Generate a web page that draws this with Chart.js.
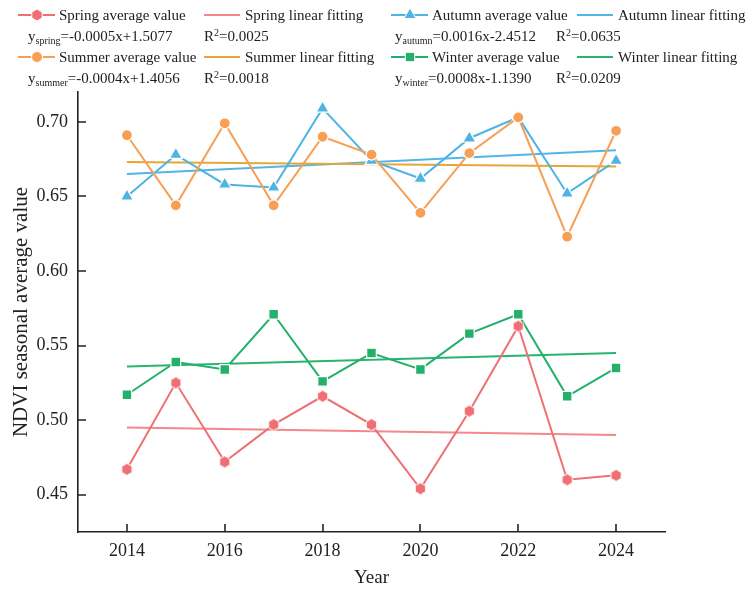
<!DOCTYPE html>
<html>
<head>
<meta charset="utf-8">
<script src="https://cdn.jsdelivr.net/npm/chart.js@4.4.1/dist/chart.umd.min.js"></script>
<style>
  html, body { margin: 0; padding: 0; background: #fff; }
  #wrap { position: relative; width: 754px; height: 590px; font-family: "Liberation Serif", "Times New Roman", serif; color: #222; }
  #chart { position: absolute; left: 0; top: 0; }
  #legend { position: absolute; left: 0; top: 0; width: 754px; height: 92px; pointer-events: none; }
  .lg { position: absolute; font-size: 15px; line-height: 18px; white-space: nowrap; }
  .lg sub { font-size: 10px; vertical-align: -3px; line-height: 0; }
  .lg sup { font-size: 10px; vertical-align: 5px; line-height: 0; }
</style>
</head>
<body>
<div id="wrap">
  <canvas id="chart" width="754" height="590"></canvas>
  <svg id="legend" width="754" height="92"></svg>
</div>
<script>
// Seasonal NDVI means by year
const years = [2014, 2015, 2016, 2017, 2018, 2019, 2020, 2021, 2022, 2023, 2024];
const springValues = [0.467, 0.525, 0.472, 0.497, 0.516, 0.497, 0.454, 0.506, 0.563, 0.460, 0.463];
const summerValues = [0.691, 0.644, 0.699, 0.644, 0.690, 0.678, 0.639, 0.679, 0.703, 0.623, 0.694];
const autumnValues = [0.650, 0.678, 0.658, 0.656, 0.709, 0.674, 0.662, 0.689, 0.703, 0.652, 0.674];
const winterValues = [0.517, 0.539, 0.534, 0.571, 0.526, 0.545, 0.534, 0.558, 0.571, 0.516, 0.535];

// Linear fits, drawn between the first and last year
const fitYears = [2014, 2024];
const springFit = [0.495, 0.490];
const summerFit = [0.673, 0.670];
const autumnFit = [0.665, 0.681];
const winterFit = [0.536, 0.545];

// Axis ticks
const xTicks = [2014, 2016, 2018, 2020, 2022, 2024];
const yTicks = [0.45, 0.50, 0.55, 0.60, 0.65, 0.70];

// Legend text
const seriesNames = ['Spring', 'Summer', 'Autumn', 'Winter'];
const equations = ['=-0.0005x+1.5077', '=-0.0004x+1.4056', '=0.0016x-2.4512', '=0.0008x-1.1390'];
const rSquared = ['0.0025', '0.0018', '0.0635', '0.0209'];

const COLORS = {
  spring: '#ef6f74', springFit: '#f4878b',
  summer: '#f7a055', summerFit: '#e8a538',
  autumn: '#4fb3e4', autumnFit: '#53b5e6',
  winter: '#22b06b', winterFit: '#28b46f'
};
const FONT = '"Liberation Serif", "Times New Roman", serif';

function hexagonImage(color, r) {
  const size = Math.ceil(r * 2 + 3);
  const c = document.createElement('canvas');
  c.width = size; c.height = size;
  const g = c.getContext('2d');
  const cx = size / 2, cy = size / 2;
  g.beginPath();
  for (let i = 0; i < 6; i++) {
    const a = Math.PI / 6 + i * Math.PI / 3;
    const px = cx + r * Math.cos(a), py = cy + r * Math.sin(a);
    i === 0 ? g.moveTo(px, py) : g.lineTo(px, py);
  }
  g.closePath();
  g.fillStyle = color; g.fill();
  g.strokeStyle = '#ffffff'; g.lineWidth = 1; g.stroke();
  return c;
}

const pts = (xs, ys) => xs.map((x, i) => ({ x: x, y: ys[i] }));

function fitDataset(label, ys, color) {
  return {
    label: label, data: pts(fitYears, ys), borderColor: color, borderWidth: 2,
    pointRadius: 0, pointHoverRadius: 0, fill: false, tension: 0, order: 2
  };
}
function avgDataset(label, ys, color, style, radius) {
  return {
    label: label, data: pts(years, ys), borderColor: color, backgroundColor: color,
    borderWidth: 2, pointStyle: style, pointRadius: radius, pointHoverRadius: radius,
    pointBackgroundColor: color, pointBorderColor: '#ffffff', pointBorderWidth: 1.2,
    fill: false, tension: 0, order: 1
  };
}

// Inward tick marks on both axes
const inwardTicks = {
  id: 'inwardTicks',
  afterDatasetsDraw(chart) {
    const ctx = chart.ctx;
    const area = chart.chartArea;
    const xs = chart.scales.x, ys = chart.scales.y;
    ctx.save();
    ctx.strokeStyle = '#222222';
    ctx.lineWidth = 1.6;
    ctx.beginPath();
    xTicks.forEach(v => {
      const px = Math.round(xs.getPixelForValue(v));
      ctx.moveTo(px, area.bottom);
      ctx.lineTo(px, area.bottom - 8);
    });
    yTicks.forEach(v => {
      const py = Math.round(ys.getPixelForValue(v));
      ctx.moveTo(area.left, py);
      ctx.lineTo(area.left + 8, py);
    });
    ctx.stroke();
    ctx.restore();
  }
};

new Chart(document.getElementById('chart'), {
  type: 'line',
  data: {
    datasets: [
      fitDataset('Spring linear fitting', springFit, COLORS.springFit),
      fitDataset('Summer linear fitting', summerFit, COLORS.summerFit),
      fitDataset('Autumn linear fitting', autumnFit, COLORS.autumnFit),
      fitDataset('Winter linear fitting', winterFit, COLORS.winterFit),
      avgDataset('Spring average value', springValues, COLORS.spring, hexagonImage(COLORS.spring, 6), 6),
      avgDataset('Summer average value', summerValues, COLORS.summer, 'circle', 5.5),
      avgDataset('Autumn average value', autumnValues, COLORS.autumn, 'triangle', 7.5),
      avgDataset('Winter average value', winterValues, COLORS.winter, 'rect', 6.8)
    ]
  },
  options: {
    responsive: false,
    animation: false,
    devicePixelRatio: 1,
    layout: { padding: { top: 92, right: 89, left: 0, bottom: 0 } },
    plugins: { legend: { display: false }, tooltip: { enabled: false } },
    scales: {
      x: {
        type: 'linear', min: 2013, max: 2025,
        afterBuildTicks(s) { s.ticks = xTicks.map(v => ({ value: v })); },
        afterFit(s) { s.height = 58; },
        grid: { display: false, drawTicks: false },
        border: { display: true, color: '#222', width: 1.6 },
        ticks: { padding: 8, color: '#222', font: { family: FONT, size: 18 }, callback: v => String(v) },
        title: { display: true, text: 'Year', color: '#222', font: { family: FONT, size: 19 }, padding: { top: 0, bottom: 1 } }
      },
      y: {
        type: 'linear', min: 0.425, max: 0.72,
        afterBuildTicks(s) { s.ticks = yTicks.map(v => ({ value: v })); },
        afterFit(s) { s.width = 78; },
        grid: { display: false, drawTicks: false },
        border: { display: true, color: '#222', width: 1.6 },
        ticks: { padding: 10, color: '#222', font: { family: FONT, size: 18 }, callback: v => Number(v).toFixed(2) },
        title: { display: true, text: 'NDVI seasonal average value', color: '#222', font: { family: FONT, size: 21 }, padding: { top: 9, bottom: 0 } }
      }
    }
  },
  plugins: [inwardTicks]
});

// Legend: sample lines and markers in SVG, labels as text
(function buildLegend() {
  const svg = document.getElementById('legend');
  const wrap = document.getElementById('wrap');
  const NS = 'http://www.w3.org/2000/svg';
  const el = (tag, attrs) => { const e = document.createElementNS(NS, tag); for (const k in attrs) e.setAttribute(k, attrs[k]); svg.appendChild(e); return e; };
  const text = (html, left, cy) => {
    const d = document.createElement('div');
    d.className = 'lg'; d.innerHTML = html;
    d.style.left = left + 'px'; d.style.top = (cy - 9) + 'px';
    wrap.appendChild(d);
  };
  const line = (x1, x2, y, c) => el('line', { x1: x1, x2: x2, y1: y, y2: y, stroke: c, 'stroke-width': 2 });
  const marker = (kind, x, y, c) => {
    if (kind === 'circle') el('circle', { cx: x, cy: y, r: 5.5, fill: c, stroke: '#fff', 'stroke-width': 1 });
    else if (kind === 'rect') el('rect', { x: x - 4.7, y: y - 4.7, width: 9.4, height: 9.4, fill: c, stroke: '#fff', 'stroke-width': 1 });
    else if (kind === 'triangle') el('polygon', { points: `${x},${y - 7} ${x + 6.1},${y + 3.5} ${x - 6.1},${y + 3.5}`, fill: c, stroke: '#fff', 'stroke-width': 1 });
    else {
      const p = [];
      for (let i = 0; i < 6; i++) { const a = Math.PI / 6 + i * Math.PI / 3; p.push((x + 6 * Math.cos(a)).toFixed(2) + ',' + (y + 6 * Math.sin(a)).toFixed(2)); }
      el('polygon', { points: p.join(' '), fill: c, stroke: '#fff', 'stroke-width': 1 });
    }
  };
  const keys = ['spring', 'summer', 'autumn', 'winter'];
  const kinds = ['hex', 'circle', 'triangle', 'rect'];
  // column origin and row centre for each season
  const colX = [0, 0, 373, 373];
  const rowY = [15, 57, 15, 57];
  keys.forEach((k, i) => {
    const ox = colX[i], cy = rowY[i];
    line(ox + 18, ox + 55, cy, COLORS[k]);
    marker(kinds[i], ox + 37, cy, COLORS[k]);
    text(seriesNames[i] + ' average value', ox + 59, cy);
    line(ox + 204, ox + 240, cy, COLORS[k + 'Fit']);
    text(seriesNames[i] + ' linear fitting', ox + 245, cy);
    text('y<sub>' + k + '</sub>' + equations[i], ox + (i < 2 ? 28 : 22), cy + 21);
    text('R<sup>2</sup>=' + rSquared[i], ox + (i < 2 ? 204 : 183), cy + 21);
  });
})();
</script>
</body>
</html>
